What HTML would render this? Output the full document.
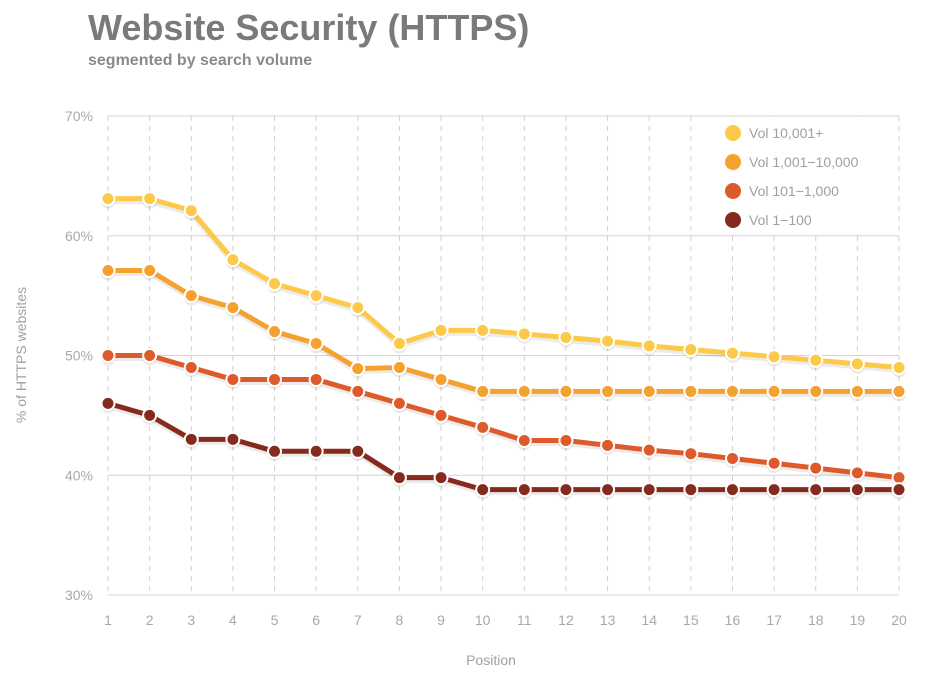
<!DOCTYPE html>
<html><head><meta charset="utf-8"><style>
body{margin:0;background:#fff;width:932px;height:677px;overflow:hidden;font-family:"Liberation Sans",sans-serif}
</style></head><body>
<svg id="s" width="932" height="677" xmlns="http://www.w3.org/2000/svg" font-family="Liberation Sans, sans-serif">
<text x="88" y="40" font-size="36" font-weight="bold" fill="#7a7a7a">Website Security (HTTPS)</text>
<text x="88" y="65" font-size="16" font-weight="bold" fill="#8a8a8a">segmented by search volume</text>
<text x="491" y="665" font-size="14" fill="#a0a0a0" text-anchor="middle">Position</text>
<text transform="translate(26,355) rotate(-90)" font-size="14" fill="#a0a0a0" text-anchor="middle">% of HTTPS websites</text>
<g id="g"></g>
</svg>
<script>
var g=document.getElementById('g'),h='';
var X=function(i){return 108+(i-1)*791/19},Y=function(v){return 116+(70-v)*11.975};
[70,60,50,40,30].forEach(function(v){h+='<line x1="108" x2="899" y1="'+Y(v)+'" y2="'+Y(v)+'" stroke="#d4d4d4"/>';
h+='<text x="93" y="'+(Y(v)+5)+'" font-size="14" fill="#a8a8a8" text-anchor="end">'+v+'%</text>';});
for(var i=1;i<=20;i++){h+='<line x1="'+X(i)+'" x2="'+X(i)+'" y1="116" y2="595" stroke="#cfcfcf" stroke-dasharray="5,5"/>';
h+='<text x="'+X(i)+'" y="625" font-size="14" fill="#a8a8a8" text-anchor="middle">'+i+'</text>';}
var S=[
['#FDC94A',[63.1,63.1,62.1,58,56,55,54,51,52.1,52.1,51.8,51.5,51.2,50.8,50.5,50.2,49.9,49.6,49.3,49]],
['#F5A130',[57.1,57.1,55,54,52,51,48.9,49,48,47,47,47,47,47,47,47,47,47,47,47]],
['#DF5A2A',[50,50,49,48,48,48,47,46,45,44,42.9,42.9,42.5,42.1,41.8,41.4,41,40.6,40.2,39.8]],
['#862A1E',[46,45,43,43,42,42,42,39.8,39.8,38.8,38.8,38.8,38.8,38.8,38.8,38.8,38.8,38.8,38.8,38.8]]];
S.forEach(function(s){var p=s[1].map(function(v,k){return X(k+1)+','+Y(v)}).join(' ');
var ps=s[1].map(function(v,k){return X(k+1)+','+(Y(v)+3)}).join(' ');
h+='<polyline points="'+ps+'" fill="none" stroke="#000" stroke-opacity="0.08" stroke-width="5" stroke-linejoin="round"/>';
h+='<polyline points="'+p+'" fill="none" stroke="'+s[0]+'" stroke-width="5" stroke-linejoin="round"/>';
s[1].forEach(function(v,k){h+='<circle cx="'+X(k+1)+'" cy="'+(Y(v)+3)+'" r="7" fill="#000" fill-opacity="0.08"/><circle cx="'+X(k+1)+'" cy="'+Y(v)+'" r="6.5" fill="'+s[0]+'" stroke="#fff" stroke-width="2"/>';});});
h+='<rect x="712" y="117" width="186" height="118" fill="#fff"/>';
var L=['Vol 10,001+','Vol 1,001\u221210,000','Vol 101\u22121,000','Vol 1\u2212100'];
L.forEach(function(t,k){var y=133+k*29;h+='<circle cx="733" cy="'+y+'" r="8" fill="'+S[k][0]+'"/><text x="749" y="'+(y+5)+'" font-size="14" fill="#a0a0a0">'+t+'</text>';});
g.innerHTML=h;
</script>
</body></html>
